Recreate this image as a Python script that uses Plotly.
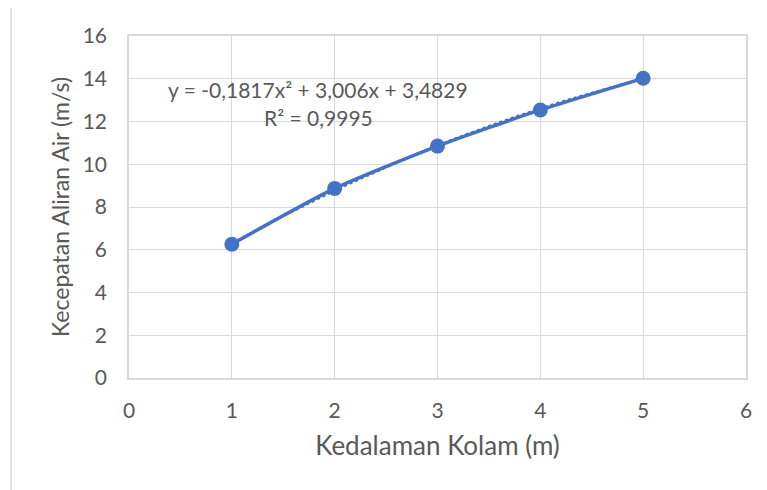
import numpy as np
import plotly.graph_objects as go

depth = [1, 2, 3, 4, 5]
velocity = [6.26, 8.87, 10.85, 12.54, 14.02]
eq_text = "y = -0,1817x² + 3,006x + 3,4829"
r2_text = "R² = 0,9995"
x_title = "Kedalaman Kolam (m)"
y_title = "Kecepatan Aliran Air (m/s)"

BLUE = "#4472C4"
GRID = "#d9d9d9"
TXT = "#595959"
FONT = "Lato"

coef = np.polyfit(depth, velocity, 2)
xt = np.linspace(depth[0], depth[-1], 60)
yt = np.polyval(coef, xt)

fig = go.Figure()
fig.add_trace(go.Scatter(x=xt, y=yt, mode="lines",
                         line=dict(color=BLUE, width=2.5, dash="dot"),
                         hoverinfo="skip", showlegend=False))
fig.add_trace(go.Scatter(x=depth, y=velocity, mode="lines+markers",
                         line=dict(color=BLUE, width=3.5, shape="spline", smoothing=0.6),
                         marker=dict(color=BLUE, size=15),
                         showlegend=False))

# page offset of 8px (body margin) taken into account
L, R, T, B = 121, 21, 28, 112
W, H = 759, 482
PX0, PX1, PY0, PY1 = 129, 746, 36, 378  # plot area in screenshot pixels

def px_x(p):
    return (p - PX0) / (PX1 - PX0)

def px_y(p):
    return (PY1 - p) / (PY1 - PY0)

fig.add_shape(type="line", xref="paper", yref="paper",
              x0=px_x(11), x1=px_x(11), y0=px_y(500), y1=px_y(7),
              line=dict(color=GRID, width=1.5))
fig.add_shape(type="line", xref="paper", yref="paper",
              x0=px_x(11), x1=px_x(780), y0=px_y(7), y1=px_y(7),
              line=dict(color=GRID, width=1.5))

fig.add_annotation(text=eq_text, xref="x", yref="y", x=1.84, y=13.52,
                   showarrow=False, font=dict(family=FONT, size=21, color=TXT))
fig.add_annotation(text=r2_text, xref="x", yref="y", x=1.84, y=12.17,
                   showarrow=False, font=dict(family=FONT, size=21, color=TXT))

fig.update_layout(
    width=W, height=H,
    margin=dict(l=L, r=R, t=T, b=B),
    paper_bgcolor="white", plot_bgcolor="white",
    font=dict(family=FONT, color=TXT),
)
fig.update_xaxes(range=[0, 6], dtick=1, showgrid=True, gridcolor=GRID, gridwidth=1.3,
                 showline=True, linecolor=GRID, linewidth=1.5, mirror=True,
                 zeroline=False, ticks="", ticklabelstandoff=13,
                 tickfont=dict(family=FONT, size=21, color=TXT),
                 title=dict(text=x_title, font=dict(family=FONT, size=26, color=TXT), standoff=16))
fig.update_yaxes(range=[0, 16], dtick=2, showgrid=True, gridcolor=GRID, gridwidth=1.3,
                 showline=True, linecolor=GRID, linewidth=1.5, mirror=True,
                 zeroline=False, ticks="", ticklabelstandoff=16,
                 tickfont=dict(family=FONT, size=21, color=TXT),
                 title=dict(text=y_title, font=dict(family=FONT, size=23, color=TXT), standoff=7))

fig.write_html("out.html")
